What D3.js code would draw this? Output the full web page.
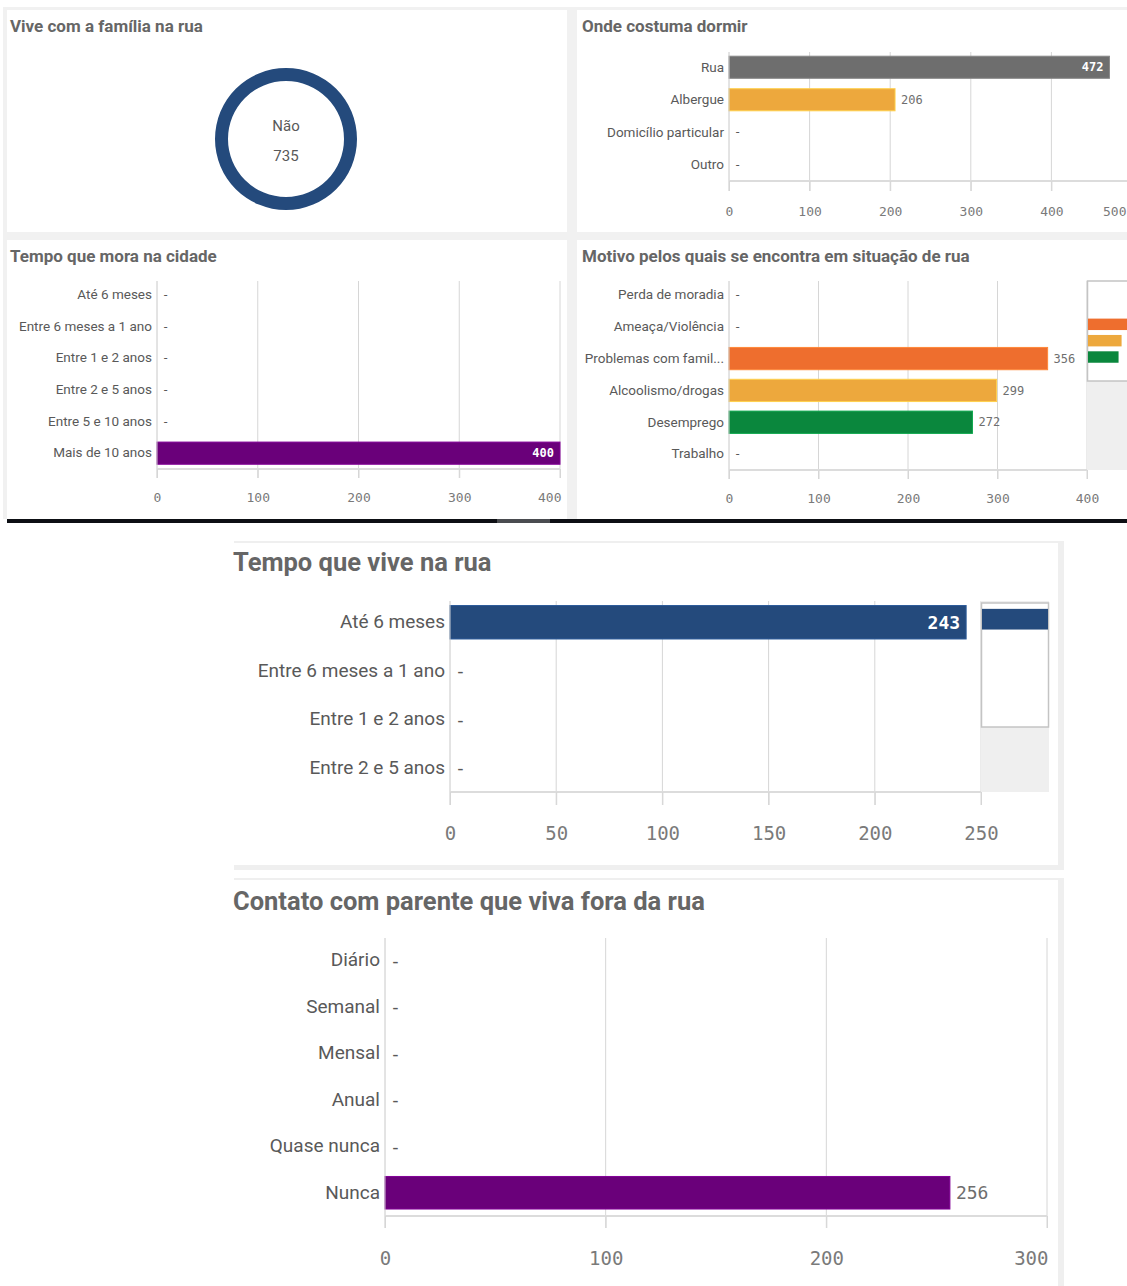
<!DOCTYPE html>
<html>
<head>
<meta charset="utf-8">
<script src="https://cdn.jsdelivr.net/npm/d3@7"></script>
<style>
  body { margin: 0; background: #fff; }
  svg { display: block; }
  .title { font-family: Roboto, "Noto Sans", sans-serif; font-weight: 700; fill: #666; }
  .cat { font-family: Roboto, "Noto Sans", sans-serif; fill: #595959; }
  .mono { font-family: "DejaVu Sans Mono", "Liberation Mono", monospace; }
</style>
</head>
<body>
<svg id="chart" width="1127" height="1286"></svg>
<script>
// ---- data ----
const viveCats = ["Não"];
const viveValues = [735];

const dormirCats = ["Rua", "Albergue", "Domicílio particular", "Outro"];
const dormirValues = [472, 206, null, null];
const dormirColors = ["#6e6e6e", "#eda83d", "#6e6e6e", "#6e6e6e"];
const dormirTicks = [0, 100, 200, 300, 400, 500];

const cidadeCats = ["Até 6 meses", "Entre 6 meses a 1 ano", "Entre 1 e 2 anos", "Entre 2 e 5 anos", "Entre 5 e 10 anos", "Mais de 10 anos"];
const cidadeValues = [null, null, null, null, null, 400];
const cidadeTicks = [0, 100, 200, 300, 400];

const motivoCats = ["Perda de moradia", "Ameaça/Violência", "Problemas com famil...", "Alcoolismo/drogas", "Desemprego", "Trabalho"];
const motivoValues = [null, null, 356, 299, 272, null];
const motivoColors = ["#ee6e2e", "#ee6e2e", "#ee6e2e", "#eda83d", "#0a873d", "#0a873d"];
const motivoTicks = [0, 100, 200, 300, 400];

const ruaCats = ["Até 6 meses", "Entre 6 meses a 1 ano", "Entre 1 e 2 anos", "Entre 2 e 5 anos"];
const ruaValues = [243, null, null, null];
const ruaTicks = [0, 50, 100, 150, 200, 250];

const contatoCats = ["Diário", "Semanal", "Mensal", "Anual", "Quase nunca", "Nunca"];
const contatoValues = [null, null, null, null, null, 256];
const contatoTicks = [0, 100, 200, 300];

const svg = d3.select("#chart");

// ---- background & cards ----
svg.append("rect").attr("x", 3).attr("y", 7).attr("width", 1124).attr("height", 512).attr("fill", "#f1f1f1");
let topCards = [[7, 10, 560, 222], [577, 10, 550, 222], [7, 240, 560, 279], [577, 240, 550, 279]];
let bottomCards = [[232, 543, 826, 322], [232, 880, 826, 406]];
for (let c of bottomCards) {
  svg.append("rect").attr("x", c[0] + 2).attr("y", c[1] - 2).attr("width", c[2] + 4).attr("height", c[3] + 7).attr("fill", "#efefef");
}
for (let c of topCards.concat(bottomCards)) {
  svg.append("rect").attr("x", c[0]).attr("y", c[1]).attr("width", c[2]).attr("height", c[3]).attr("fill", "#fff");
}
// black divider between the two screenshots
svg.append("rect").attr("x", 7).attr("y", 519).attr("width", 1120).attr("height", 4).attr("fill", "#0d0f14");
svg.append("rect").attr("x", 497).attr("y", 519).attr("width", 53).attr("height", 4).attr("fill", "#4a4c50");

// ---- titles ----
function title(x, y, txt, size) {
  svg.append("text").attr("class", "title").attr("x", x).attr("y", y)
    .attr("font-size", size).text(txt);
}
title(10, 32, "Vive com a família na rua", 17);
title(582, 32, "Onde costuma dormir", 17);
title(10, 262, "Tempo que mora na cidade", 17);
title(582, 262, "Motivo pelos quais se encontra em situação de rua", 17);
title(233, 571, "Tempo que vive na rua", 25.5);
title(233, 910, "Contato com parente que viva fora da rua", 25.5);

// ---- donut ----
let pie = d3.pie().sort(null)(viveValues);
let arc = d3.arc().innerRadius(58).outerRadius(71);
let donut = svg.append("g").attr("transform", "translate(286,139)");
donut.selectAll("path").data(pie).join("path").attr("d", arc).attr("fill", "#244a7c");
donut.append("text").attr("class", "cat").attr("text-anchor", "middle").attr("y", -8)
  .attr("font-size", 15).text(viveCats[0]);
donut.append("text").attr("class", "cat").attr("text-anchor", "middle").attr("y", 22)
  .attr("font-size", 15).text(viveValues[0]);

// ---- horizontal bar panel ----
let clipId = 0;
function barPanel(o) {
  clipId++;
  svg.append("clipPath").attr("id", "clip" + clipId).append("rect")
    .attr("x", o.clip[0]).attr("y", o.clip[1]).attr("width", o.clip[2]).attr("height", o.clip[3]);
  let g = svg.append("g").attr("clip-path", `url(#clip${clipId})`);

  let x = d3.scaleLinear().domain([0, o.max]).range([o.x0, o.x1]);
  let y = d3.scaleBand().domain(o.cats).range([o.yTop, o.yBottom]).paddingInner(o.pad).paddingOuter(o.pad / 2);

  // gridlines
  g.append("g").selectAll("line").data(o.ticks.slice(1)).join("line")
    .attr("x1", d => x(d)).attr("x2", d => x(d))
    .attr("y1", o.gridTop).attr("y2", o.yBottom + o.tickLen)
    .attr("stroke", "#d6d6d6").attr("stroke-width", 1);

  // bars
  let rows = o.cats.map((c, i) => ({ c: c, v: o.values[i], col: o.colors[i] }));
  g.append("g").selectAll("rect").data(rows.filter(d => d.v != null)).join("rect")
    .attr("x", x(0)).attr("y", d => y(d.c))
    .attr("width", d => x(d.v) - x(0)).attr("height", y.bandwidth())
    .attr("fill", d => d.col)
    .attr("stroke", d => d3.color(d.col).brighter(0.6)).attr("stroke-width", 1);

  // value labels
  g.append("g").selectAll("text").data(rows).join("text")
    .attr("class", "mono")
    .attr("font-size", o.valSize)
    .attr("y", d => y(d.c) + y.bandwidth() / 2)
    .attr("dy", "0.35em")
    .each(function (d) {
      let t = d3.select(this);
      if (d.v == null) {
        t.attr("x", x(0) + 5).attr("fill", "#595959").text("-");
      } else if (x(d.v) + o.valSize * 2.2 > o.plotRight) {
        t.attr("x", x(d.v) - 6).attr("text-anchor", "end").attr("fill", "#fff")
          .attr("font-weight", 700).text(d.v);
      } else {
        t.attr("x", x(d.v) + 6).attr("fill", "#6e6e6e").text(d.v);
      }
    });

  // category axis
  let ya = d3.axisLeft(y).tickSize(0).tickPadding(5);
  let yg = g.append("g").attr("transform", `translate(${o.x0},0)`).call(ya);
  yg.select(".domain").remove();
  yg.selectAll("text").attr("class", "cat").attr("font-size", o.catSize).attr("fill", "#595959");
  g.append("line").attr("x1", o.x0).attr("x2", o.x0)
    .attr("y1", o.gridTop).attr("y2", o.yBottom + o.tickLen)
    .attr("stroke", "#c8c8c8");

  // value axis
  let xa = d3.axisBottom(x).tickValues(o.ticks).tickSize(o.tickLen).tickSizeOuter(0).tickPadding(o.tickPad);
  let xg = g.append("g").attr("transform", `translate(0,${o.yBottom})`).call(xa);
  xg.select(".domain").attr("stroke", "#dcdcdc").attr("stroke-width", 2)
    .attr("d", `M${o.x0},0H${x(o.ticks[o.ticks.length - 1])}`);
  xg.selectAll(".tick line").attr("stroke", "#d6d6d6");
  xg.selectAll("text").attr("class", "mono").attr("font-size", o.tickSize).attr("fill", "#7a7a7a");
  // last tick label kept inside the card, as the dashboard does
  if (o.lastEnd != null) {
    xg.selectAll(".tick").filter(d => d === o.ticks[o.ticks.length - 1]).select("text")
      .attr("text-anchor", "end").attr("x", o.lastEnd - x(o.ticks[o.ticks.length - 1]));
  }

  // mini scroll overview
  if (o.mini) {
    let m = o.mini;
    g.append("rect").attr("x", m.x).attr("y", o.gridTop).attr("width", m.w).attr("height", o.yBottom - o.gridTop)
      .attr("fill", "#efefef");
    g.append("rect").attr("x", m.x + 0.5).attr("y", m.boxTop).attr("width", m.w - 1).attr("height", m.boxBottom - m.boxTop)
      .attr("fill", "#fff").attr("stroke", "#c4c4c4").attr("stroke-width", 1.5);
    let mx = d3.scaleLinear().domain([0, d3.max(o.values)]).range([m.x + 1, m.x + m.barW]);
    let my = d3.scaleBand().domain(o.cats).range([m.rowTop, m.rowBottom]).padding(0.3);
    g.append("g").selectAll("rect").data(rows.filter(d => d.v != null)).join("rect")
      .attr("x", mx(0)).attr("y", d => my(d.c))
      .attr("width", d => mx(d.v) - mx(0)).attr("height", my.bandwidth())
      .attr("fill", d => d.col);
  }
}

barPanel({
  cats: dormirCats, values: dormirValues, colors: dormirColors, ticks: dormirTicks, max: 500,
  x0: 729, x1: 1132, yTop: 51, yBottom: 181, gridTop: 52, pad: 0.32, tickLen: 10, tickPad: 16,
  catSize: 13.5, tickSize: 13, valSize: 12, plotRight: 1127, clip: [577, 40, 550, 190], lastEnd: 1126
});
barPanel({
  cats: cidadeCats, values: cidadeValues, colors: d3.range(6).map(() => "#6a007a"), ticks: cidadeTicks, max: 400,
  x0: 157, x1: 560, yTop: 279, yBottom: 469, gridTop: 281, pad: 0.3, tickLen: 9, tickPad: 15,
  catSize: 13.5, tickSize: 13, valSize: 12, plotRight: 563, clip: [7, 270, 560, 248], lastEnd: 561
});
barPanel({
  cats: motivoCats, values: motivoValues, colors: motivoColors, ticks: motivoTicks, max: 400,
  x0: 729, x1: 1087, yTop: 279, yBottom: 470, gridTop: 281, pad: 0.3, tickLen: 9, tickPad: 15,
  catSize: 13.5, tickSize: 13, valSize: 12, plotRight: 1087, clip: [577, 270, 550, 248],
  mini: { x: 1087, w: 44, boxTop: 281, boxBottom: 381, rowTop: 281, rowBottom: 384, barW: 41 }
});
barPanel({
  cats: ruaCats, values: ruaValues, colors: ruaCats.map(() => "#244a7c"), ticks: ruaTicks, max: 250,
  x0: 450, x1: 981, yTop: 598, yBottom: 792, gridTop: 601, pad: 0.31, tickLen: 13, tickPad: 22,
  catSize: 19, tickSize: 19, valSize: 18, plotRight: 981, clip: [232, 590, 826, 270],
  mini: { x: 981, w: 68, boxTop: 603, boxBottom: 727, rowTop: 600, rowBottom: 727, barW: 67 }
});
barPanel({
  cats: contatoCats, values: contatoValues, colors: contatoCats.map(() => "#6a007a"), ticks: contatoTicks, max: 300,
  x0: 385, x1: 1047, yTop: 937, yBottom: 1216, gridTop: 938, pad: 0.3, tickLen: 12, tickPad: 24,
  catSize: 19, tickSize: 19, valSize: 18, plotRight: 1047, clip: [232, 930, 826, 356], lastEnd: 1048
});
</script>
</body>
</html>
